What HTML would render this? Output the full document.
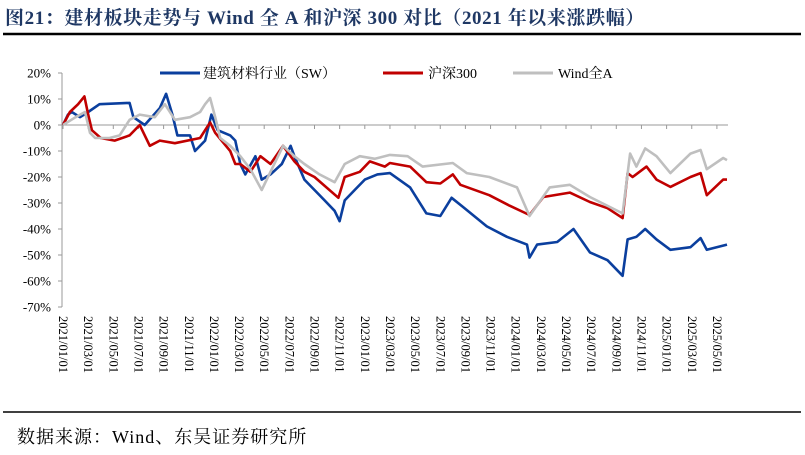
<!DOCTYPE html>
<html><head><meta charset="utf-8"><style>
body{margin:0;background:#fff;width:805px;height:450px;overflow:hidden;font-family:"Liberation Serif","Noto Serif CJK SC",serif}
</style></head><body>
<svg width="805" height="450" xmlns="http://www.w3.org/2000/svg">
<text x="5" y="24" font-size="19" letter-spacing="0.6" font-weight="bold" fill="#1f3864" font-family="Liberation Serif, Noto Serif CJK SC, serif">图21：建材板块走势与 Wind 全 A 和沪深 300 对比（2021 年以来涨跌幅）</text>
<line x1="3" y1="34" x2="801" y2="34" stroke="#000" stroke-width="2.5"/>
<g id="axes"></g>
<g id="series"></g>
<g font-size="14" font-family="Liberation Serif, Noto Serif CJK SC, serif">
<g><line x1="160" y1="73" x2="200" y2="73" stroke="#0b3f9e" stroke-width="3"/><text x="203" y="78">建筑材料行业（SW）</text></g>
<g><line x1="383" y1="73" x2="423" y2="73" stroke="#c00000" stroke-width="3"/><text x="428" y="78">沪深300</text></g>
<g><line x1="513" y1="73" x2="553" y2="73" stroke="#bfbfbf" stroke-width="3"/><text x="558" y="78">Wind全A</text></g>
</g>
<line x1="3" y1="412" x2="801" y2="412" stroke="#000" stroke-width="1.5"/>
<text x="17" y="443" font-size="18" letter-spacing="1" font-family="Liberation Serif, Noto Serif CJK SC, serif">数据来源：Wind、东吴证券研究所</text>
</svg>
<script>
// months since 2021/01/01
const xTickLabels=["2021/01/01","2021/03/01","2021/05/01","2021/07/01","2021/09/01","2021/11/01","2022/01/01","2022/03/01","2022/05/01","2022/07/01","2022/09/01","2022/11/01","2023/01/01","2023/03/01","2023/05/01","2023/07/01","2023/09/01","2023/11/01","2024/01/01","2024/03/01","2024/05/01","2024/07/01","2024/09/01","2024/11/01","2025/01/01","2025/03/01","2025/05/01"];
const yTicks=[20,10,0,-10,-20,-30,-40,-50,-60,-70];
const blueDates=[0,0.4,0.7,1.35,2.0,2.9,5.3,5.6,6.5,7.7,8.2,8.7,9.1,10.1,10.5,11.3,11.8,12.3,13.3,13.7,14.1,14.5,15.3,15.8,16.5,17.4,18.1,18.4,19.2,20.0,20.8,21.6,22.0,22.4,23.2,24.0,25.0,26.0,27.6,28.9,30.0,30.9,31.8,33.7,35.3,36.9,37.1,37.7,39.3,40.6,41.9,43.3,44.5,44.9,45.6,46.3,47.2,48.3,49.9,50.7,51.2,52.8];
const blueVals=[0,4,5,3,5,8,8.5,3,0,6.5,12,4,-4,-4,-10,-6,4,-2,-4,-6,-15,-19,-12,-21,-19,-15,-8,-12,-21,-25,-29,-33,-37,-29,-25,-21,-19,-18.5,-24,-34,-35,-28,-31.5,-39,-43,-46,-51,-46,-45,-40,-49,-52,-58,-44,-43,-40,-44,-48,-47,-43.5,-48,-46];
const redDates=[0,0.55,1.2,1.7,2.0,2.3,3.0,4.1,5.3,6.1,6.9,7.7,8.9,10.9,11.7,12.1,13.3,13.7,14.1,14.9,15.7,16.5,17.5,18.4,19.2,20.0,21.9,22.4,23.6,24.4,25.6,26.0,27.6,28.9,30.0,31.0,31.6,33.9,35.5,37.1,38.2,40.3,41.9,43.3,44.5,44.9,45.3,46.4,47.2,48.3,49.9,50.7,51.2,52.5,52.8];
const redVals=[0,5,8,11,4,-2,-5,-6,-4,0,-8,-6,-7,-5,1,-3,-10,-15,-15,-18,-12,-15,-8,-14,-18,-20,-28,-20,-18,-14,-16,-14.6,-16,-22,-22.5,-19,-23,-27,-31,-34.6,-27.7,-26,-29.6,-32,-35.8,-18.5,-20,-16,-21,-23.8,-20,-18.5,-27,-21,-21];
const grayDates=[0,1.0,1.75,2.15,2.55,3.7,4.5,5.3,6.1,7.3,8.1,8.9,10.1,10.9,11.3,11.7,12.1,12.5,13.3,14.1,14.9,15.8,16.5,17.5,18.4,19.2,20.4,21.6,22.4,23.6,24.8,26.0,27.4,28.6,31.0,32.1,33.9,36.1,37.1,38.7,40.3,41.9,44.5,45.1,45.6,46.3,47.2,48.3,49.9,50.7,51.2,52.5,52.8];
const grayVals=[0,3,5,-3,-5,-5,-4,2,4,3,8,2,3,5,8,10.4,3,-5,-8,-12,-17,-25,-18,-8,-12,-15,-19,-22,-15,-12,-13,-11.5,-12,-16,-14.6,-18.5,-20,-24,-35,-24,-23,-27.7,-34,-11,-16,-9,-12,-18.5,-11,-9.6,-17,-12.7,-13.5];

const NS="http://www.w3.org/2000/svg";
const X0=63, PXM=12.575, Y0=125, PXV=2.6;
const xS=m=>X0+m*PXM;
const yS=v=>Y0-v*PXV;
const axes=document.getElementById('axes');
function mk(tag,attrs,parent){const e=document.createElementNS(NS,tag);for(const k in attrs)e.setAttribute(k,attrs[k]);parent.appendChild(e);return e;}
const ya=mk('line',{x1:62,y1:yS(20),x2:62,y2:yS(-70),stroke:'#999','stroke-width':1},axes);


yTicks.forEach(v=>{
  const t=mk('line',{x1:58,y1:yS(v),x2:62,y2:yS(v),stroke:'#999'},axes);
  
  
  const l=mk('text',{x:51,y:yS(v)+4.5,'text-anchor':'end','font-size':13,'font-family':'Liberation Serif, serif'},axes);
  l.textContent=v+'%';
  
  
});
const xa=mk('line',{x1:62,y1:Y0,x2:728,y2:Y0,stroke:'#999','stroke-width':1},axes);


xTickLabels.forEach((s,i)=>{
  const x=xS(i*2);
  const t=mk('line',{x1:x,y1:Y0,x2:x,y2:Y0+4,stroke:'#999'},axes);
  
  
  const l=mk('text',{x:0,y:0,transform:`translate(${x-4},316) rotate(90)`,'font-size':12.5,'font-family':'Liberation Serif, serif'},axes);
  l.textContent=s;
  
  
});
const sg=document.getElementById('series');
function line(d,v,c,name){
  const p=mk('polyline',{points:d.map((m,i)=>xS(m).toFixed(1)+','+yS(v[i]).toFixed(1)).join(' '),fill:'none',stroke:c,'stroke-width':2.6,'stroke-linejoin':'round'},sg);
  
  
}
line(blueDates,blueVals,'#0b3f9e','series-building-materials');
line(redDates,redVals,'#c00000','series-hs300');
line(grayDates,grayVals,'#bfbfbf','series-wind-all-a');
</script>
</body></html>
